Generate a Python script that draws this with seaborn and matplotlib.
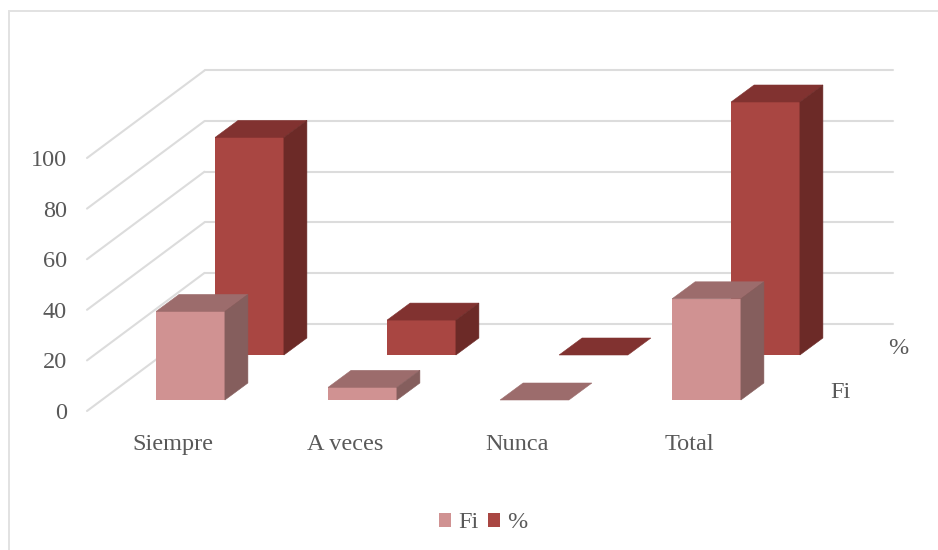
"""
Fake 3D grouped bars (Fi and %) drawn with seaborn barplots on offset axes
"""

import matplotlib
matplotlib.use('Agg')
import matplotlib.pyplot as plt
import pandas as pd
import seaborn as sns
from matplotlib.patches import Patch, Polygon, Rectangle

categorias = ['Siempre', 'A veces', 'Nunca', 'Total']
fi_values = [35, 5, 0, 40]
pct_values = [86, 13.8, 0, 100]
y_ticks = [0, 20, 40, 60, 80, 100]

W, H = 938, 550
PX_PER_CAT = 172
PX_PER_UNIT = 2.53
FONT_SIZE = 17.5
TEXT_COLOR = '#595959'
GRID_COLOR = '#dcdcdc'

sns.set_theme(style='white')
plt.rcParams['font.family'] = ['Liberation Serif', 'DejaVu Serif']

fig = plt.figure(figsize=(W / 100, H / 100), dpi=100, facecolor='white')


def plane_axes(left, base):
    # axes with the shared scale, placed by its floor corner in image pixels
    height = 130 * PX_PER_UNIT
    ax = fig.add_axes([left / W, (H - base) / H, 4 * PX_PER_CAT / W, height / H])
    ax.set_xlim(-0.5, 3.5)
    ax.set_ylim(0, 130)
    ax.patch.set_alpha(0)
    return ax


def draw_series(ax, values, name, front, top, side):
    df = pd.DataFrame({'categoria': categorias, name: values})
    sns.barplot(data=df, x='categoria', y=name, color=front, saturation=1,
                width=0.4, linewidth=0, ax=ax)
    ax.set_xlim(-0.5, 3.5)
    ax.set_ylim(0, 130)
    ax.axis('off')

    # extrude each bar backwards to get the top and side faces
    dx = 23 / PX_PER_CAT
    dy = 17 / PX_PER_UNIT
    for bar in list(ax.patches):
        x0, x1 = bar.get_x(), bar.get_x() + bar.get_width()
        h = bar.get_height()
        ax.add_patch(Polygon([(x0, h), (x1, h), (x1 + dx, h + dy), (x0 + dx, h + dy)],
                             closed=True, color=top, lw=0.4, clip_on=False))
        if h > 0:
            ax.add_patch(Polygon([(x1, 0), (x1 + dx, dy), (x1 + dx, h + dy), (x1, h)],
                                 closed=True, color=side, lw=0.4, clip_on=False))


# floor / wall grid and the axis labels
ax_grid = plane_axes(87, 411)
wall_dx = 117.5 / PX_PER_CAT
wall_dy = 87.5 / PX_PER_UNIT
for v in y_ticks:
    ax_grid.plot([-0.5, -0.5 + wall_dx], [v, v + wall_dy], color=GRID_COLOR, lw=1.5, clip_on=False)
    ax_grid.plot([-0.5 + wall_dx, 3.5 + wall_dx], [v + wall_dy, v + wall_dy],
                 color=GRID_COLOR, lw=1.5, clip_on=False)
ax_grid.set_xticks(range(len(categorias)))
ax_grid.set_xticklabels(categorias)
ax_grid.set_yticks(y_ticks)
ax_grid.tick_params(axis='x', length=0, pad=16.5, labelsize=FONT_SIZE, labelcolor=TEXT_COLOR)
ax_grid.tick_params(axis='y', length=0, pad=14.5, labelsize=FONT_SIZE, labelcolor=TEXT_COLOR)
sns.despine(ax=ax_grid, left=True, bottom=True)

# back row first so the Fi bars sit in front of it
ax_pct = plane_axes(163.5, 355)
draw_series(ax_pct, pct_values, '%', '#a94642', '#813230', '#6c2a27')

ax_fi = plane_axes(104.5, 400)
draw_series(ax_fi, fi_values, 'Fi', '#d09292', '#9c6c6c', '#855e5d')

# series names on the depth axis
fig.text(898 / W, 1 - 348 / H, '%', fontsize=FONT_SIZE, color=TEXT_COLOR, ha='center', va='center')
fig.text(840 / W, 1 - 392 / H, 'Fi', fontsize=FONT_SIZE, color=TEXT_COLOR, ha='center', va='center')

fig.legend(handles=[Patch(facecolor='#d09292', lw=0, label='Fi'), Patch(facecolor='#a94642', lw=0, label='%')],
           loc='center', bbox_to_anchor=(483.5 / W, 1 - 523 / H), ncol=2, frameon=False,
           fontsize=FONT_SIZE, labelcolor=TEXT_COLOR, handlelength=0.49, handleheight=0.49,
           handletextpad=0.3, columnspacing=0.4)

# chart area border, only left and top fall inside the picture
fig.add_artist(Rectangle((8.5 / W, -0.1), 1.1, 1.08, transform=fig.transFigure,
                         fill=False, edgecolor='#e2e2e2', lw=1.4))

fig.savefig('out.png', dpi=100, facecolor='white')
